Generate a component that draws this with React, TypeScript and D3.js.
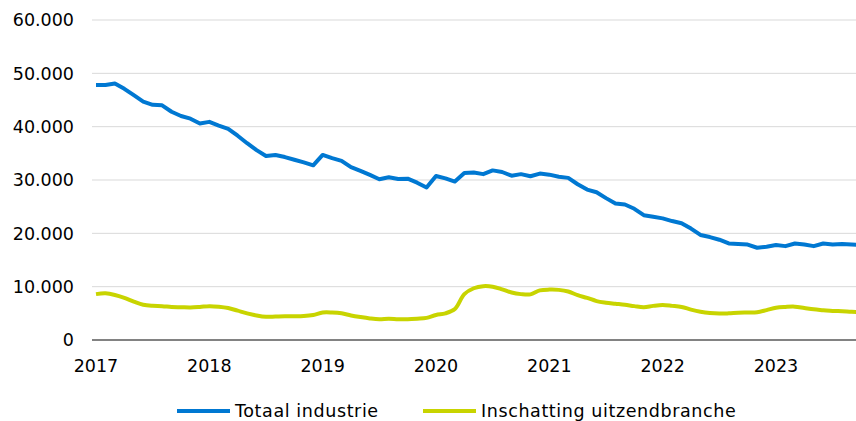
import React, { useEffect, useRef } from "react";
import * as d3 from "d3";

// maanden vanaf januari 2017
const totaalIndustrie = [
  47800, 47800, 48100, 47100, 45900, 44700, 44100, 44000, 42800, 42000, 41500, 40600,
  40900, 40200, 39600, 38300, 36900, 35600, 34500, 34700, 34300, 33800, 33300, 32750,
  34700, 34100, 33600, 32400, 31700, 30950, 30150, 30500, 30200, 30250, 29500, 28600,
  30750, 30300, 29700, 31300, 31400, 31100, 31800, 31500, 30800, 31100, 30700, 31200,
  31000, 30600, 30400, 29200, 28200, 27700, 26600, 25600, 25400, 24600, 23400, 23100,
  22800, 22300, 21900, 20900, 19700, 19300, 18800, 18100, 18000, 17900, 17300, 17500,
  17800, 17600, 18100, 17900, 17600, 18100, 17900, 18000, 17900, 17800,
];
const uitzendbranche = [
  8600, 8750, 8450, 7900, 7200, 6600, 6400, 6350, 6200, 6150, 6100, 6200,
  6350, 6250, 6000, 5500, 5000, 4600, 4350, 4400, 4450, 4450, 4500, 4700,
  5150, 5150, 5000, 4600, 4300, 4050, 3900, 4000, 3900, 3900, 4000, 4150,
  4700, 5000, 5800, 8600, 9700, 10100, 10000, 9500, 8900, 8600, 8550, 9300,
  9450, 9400, 9100, 8400, 7900, 7300, 7000, 6800, 6600, 6350, 6150, 6400,
  6550, 6400, 6200, 5700, 5300, 5050, 4950, 5000, 5100, 5150, 5200, 5600,
  6050, 6200, 6250, 6000, 5750, 5600, 5450, 5400, 5300, 5250,
];
const yTicks = [0, 10000, 20000, 30000, 40000, 50000, 60000];
const yearLabels = ["2017", "2018", "2019", "2020", "2021", "2022", "2023"];
const seriesNames = ["Totaal industrie", "Inschatting uitzendbranche"];
const colors = ["#0078d2", "#c8d400"];

const W = 856;
const H = 421;
const FONT = "'DejaVu Sans', Verdana, sans-serif";

const App = () => {
  const ref = useRef<SVGSVGElement>(null);

  useEffect(() => {
    const svg = d3.select(ref.current);
    svg.selectAll("*").remove();

    const x = d3.scaleLinear().domain([0, 72]).range([96, 776]);
    const y = d3.scaleLinear().domain([0, 60000]).range([340, 20]);
    const fmt = (v: number) => (v === 0 ? "0" : d3.format(",")(v).replace(/,/g, "."));

    // rasterlijnen
    svg
      .append("g")
      .selectAll("line")
      .data(yTicks.filter((t) => t > 0))
      .enter()
      .append("line")
      .attr("x1", 92)
      .attr("x2", W)
      .attr("y1", (d) => y(d))
      .attr("y2", (d) => y(d))
      .attr("stroke", "#d9d9d9")
      .attr("stroke-width", 1);

    // y labels
    svg
      .append("g")
      .selectAll("text")
      .data(yTicks)
      .enter()
      .append("text")
      .attr("x", 74)
      .attr("y", (d) => y(d))
      .attr("dy", "0.36em")
      .attr("text-anchor", "end")
      .attr("font-family", FONT)
      .attr("font-size", 17.5)
      .attr("fill", "#000")
      .text(fmt);

    // x-as
    svg
      .append("line")
      .attr("x1", 92)
      .attr("x2", W)
      .attr("y1", y(0))
      .attr("y2", y(0))
      .attr("stroke", "#595959")
      .attr("stroke-width", 1.5);

    svg
      .append("g")
      .selectAll("text")
      .data(yearLabels)
      .enter()
      .append("text")
      .attr("x", (_, i) => x(i * 12))
      .attr("y", 372)
      .attr("text-anchor", "middle")
      .attr("font-family", FONT)
      .attr("font-size", 17.5)
      .attr("fill", "#000")
      .text((d) => d);

    const series = [totaalIndustrie, uitzendbranche];
    const curves = [d3.curveLinear, d3.curveCatmullRom];
    const plot = svg.append("g");
    series.forEach((s, k) => {
      const line = d3
        .line<number>()
        .x((_, i) => x(i))
        .y((d) => y(d))
        .curve(curves[k]);
      plot
        .append("path")
        .datum(s)
        .attr("d", line)
        .attr("fill", "none")
        .attr("stroke", colors[k])
        .attr("stroke-width", 4)
        .attr("stroke-linejoin", "round");
    });

    // legenda
    const legendX = [177, 423];
    const legend = svg.append("g");
    seriesNames.forEach((name, k) => {
      legend
        .append("line")
        .attr("x1", legendX[k])
        .attr("x2", legendX[k] + 53)
        .attr("y1", 411)
        .attr("y2", 411)
        .attr("stroke", colors[k])
        .attr("stroke-width", 4);
      legend
        .append("text")
        .attr("x", legendX[k] + 58)
        .attr("y", 411)
        .attr("dy", "0.36em")
        .attr("font-family", FONT)
        .attr("font-size", 17.5)
        .attr("letter-spacing", 0.6)
        .attr("fill", "#000")
        .text(name);
    });
  }, []);

  return (
    <svg
      ref={ref}
      width={W}
      height={H}
      style={{ position: "absolute", left: 0, top: 0, background: "#fff" }}
    />
  );
};

export default App;
